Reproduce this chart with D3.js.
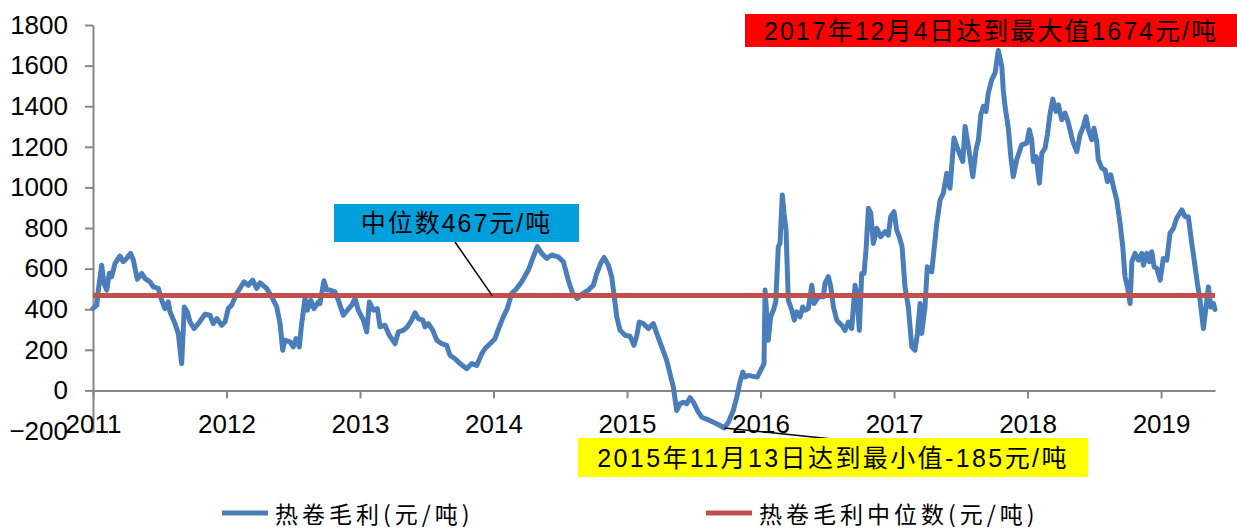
<!DOCTYPE html>
<html>
<head>
<meta charset="utf-8">
<script src="https://cdn.jsdelivr.net/npm/d3@7"></script>
<style>
  body { margin: 0; background: #fff; }
  svg { display: block; }
  .tick text { font-family: "Liberation Sans", Arial, sans-serif; font-size: 26px; fill: #000; }
  .ann { font-family: "Liberation Sans", Arial, "Noto Sans CJK SC", sans-serif; fill: #000; }
</style>
</head>
<body>
<div id="chart"></div>
<script>

// Data (decimal year, 热卷毛利 元/吨)
var years = [
  2011.000, 2011.028, 2011.040, 2011.065, 2011.082, 2011.103, 2011.122, 2011.140, 2011.165, 2011.202,
  2011.227, 2011.252, 2011.282, 2011.302, 2011.332, 2011.365, 2011.390, 2011.427, 2011.452, 2011.489,
  2011.515, 2011.539, 2011.564, 2011.577, 2011.614, 2011.639, 2011.664, 2011.684, 2011.706, 2011.727,
  2011.757, 2011.789, 2011.839, 2011.876, 2011.901, 2011.927, 2011.964, 2011.989, 2012.013, 2012.039,
  2012.076, 2012.131, 2012.163, 2012.196, 2012.226, 2012.251, 2012.301, 2012.339, 2012.376, 2012.401,
  2012.421, 2012.436, 2012.476, 2012.500, 2012.521, 2012.545, 2012.563, 2012.588, 2012.606, 2012.631,
  2012.655, 2012.688, 2012.700, 2012.730, 2012.751, 2012.775, 2012.813, 2012.838, 2012.875, 2012.905,
  2012.938, 2012.963, 2012.987, 2013.025, 2013.050, 2013.070, 2013.100, 2013.130, 2013.150, 2013.187,
  2013.219, 2013.262, 2013.287, 2013.324, 2013.354, 2013.387, 2013.412, 2013.437, 2013.470, 2013.487,
  2013.512, 2013.545, 2013.575, 2013.612, 2013.649, 2013.674, 2013.712, 2013.749, 2013.799, 2013.837,
  2013.874, 2013.912, 2013.936, 2013.974, 2014.011, 2014.043, 2014.073, 2014.103, 2014.136, 2014.174,
  2014.211, 2014.261, 2014.298, 2014.328, 2014.361, 2014.399, 2014.436, 2014.485, 2014.523, 2014.560,
  2014.593, 2014.628, 2014.668, 2014.710, 2014.748, 2014.773, 2014.803, 2014.828, 2014.860, 2014.885,
  2014.903, 2014.923, 2014.948, 2014.985, 2015.022, 2015.052, 2015.073, 2015.092, 2015.122, 2015.160,
  2015.197, 2015.223, 2015.260, 2015.297, 2015.322, 2015.347, 2015.372, 2015.397, 2015.422, 2015.447,
  2015.472, 2015.497, 2015.534, 2015.560, 2015.609, 2015.659, 2015.697, 2015.729, 2015.759, 2015.796,
  2015.822, 2015.846, 2015.867, 2015.884, 2015.909, 2015.946, 2015.976, 2016.001, 2016.026, 2016.034,
  2016.046, 2016.058, 2016.076, 2016.096, 2016.114, 2016.133, 2016.146, 2016.163, 2016.176, 2016.191,
  2016.208, 2016.234, 2016.253, 2016.271, 2016.296, 2016.316, 2016.333, 2016.358, 2016.384, 2016.401,
  2016.433, 2016.470, 2016.483, 2016.508, 2016.526, 2016.546, 2016.571, 2016.608, 2016.633, 2016.658,
  2016.683, 2016.708, 2016.721, 2016.740, 2016.758, 2016.775, 2016.790, 2016.808, 2016.826, 2016.845,
  2016.871, 2016.900, 2016.933, 2016.957, 2016.975, 2017.000, 2017.020, 2017.039, 2017.060, 2017.082,
  2017.107, 2017.133, 2017.157, 2017.175, 2017.195, 2017.207, 2017.232, 2017.249, 2017.282, 2017.307,
  2017.320, 2017.345, 2017.369, 2017.395, 2017.419, 2017.449, 2017.470, 2017.494, 2017.515, 2017.532,
  2017.557, 2017.590, 2017.614, 2017.632, 2017.650, 2017.669, 2017.689, 2017.706, 2017.732, 2017.757,
  2017.781, 2017.807, 2017.818, 2017.831, 2017.856, 2017.875, 2017.893, 2017.919, 2017.956, 2017.994,
  2018.013, 2018.031, 2018.043, 2018.064, 2018.089, 2018.107, 2018.131, 2018.148, 2018.169, 2018.189,
  2018.213, 2018.231, 2018.256, 2018.281, 2018.306, 2018.339, 2018.369, 2018.393, 2018.418, 2018.438,
  2018.456, 2018.481, 2018.498, 2018.518, 2018.530, 2018.556, 2018.581, 2018.598, 2018.623, 2018.643,
  2018.668, 2018.693, 2018.713, 2018.730, 2018.748, 2018.768, 2018.781, 2018.805, 2018.830, 2018.856,
  2018.868, 2018.893, 2018.912, 2018.930, 2018.948, 2018.968, 2018.993, 2019.017, 2019.043, 2019.067,
  2019.092, 2019.117, 2019.155, 2019.180, 2019.204, 2019.230, 2019.255, 2019.272, 2019.292, 2019.317,
  2019.337, 2019.355, 2019.372, 2019.392, 2019.404
];
var grossMargin = [
  404, 420, 494, 617, 528, 494, 577, 560, 626, 662,
  634, 650, 675, 642, 547, 576, 551, 535, 510, 502,
  444, 403, 436, 387, 329, 280, 132, 411, 387, 337,
  305, 329, 375, 370, 329, 354, 321, 337, 403, 420,
  477, 535, 518, 543, 502, 530, 502, 461, 411, 329,
  198, 247, 239, 214, 255, 214, 329, 453, 395, 444,
  403, 436, 428, 540, 494, 494, 485, 444, 370, 395,
  420, 453, 395, 346, 288, 436, 395, 403, 313, 321,
  272, 230, 288, 296, 313, 346, 382, 354, 346, 313,
  329, 296, 247, 230, 222, 173, 156, 132, 107, 132,
  123, 181, 206, 230, 255, 313, 362, 403, 477, 502,
  535, 593, 658, 708, 675, 650, 667, 658, 634, 543,
  477, 453, 477, 494, 518, 576, 626, 655, 617, 560,
  469, 362, 296, 272, 267, 222, 270, 337, 329, 305,
  329, 280, 214, 148, 82, 16, -99, -66, -58, -66,
  -36, -58, -107, -132, -145, -161, -173, -185, -157, -99,
  -33, 41, 90, 66, 74, 69, 66, 99, 132, 494,
  379, 247, 362, 395, 436, 708, 724, 963, 873, 790,
  444, 395, 346, 387, 362, 411, 395, 403, 518, 428,
  461, 461, 527, 560, 510, 411, 346, 321, 296, 337,
  305, 518, 477, 296, 576, 576, 691, 897, 873, 724,
  798, 757, 782, 765, 856, 880, 790, 757, 708, 510,
  411, 214, 198, 280, 428, 280, 411, 609, 584, 741,
  823, 938, 971, 1070, 996, 1243, 1202, 1160, 1128, 1300,
  1202, 1053, 1185, 1235, 1358, 1399, 1374, 1465, 1531, 1564,
  1674, 1597, 1481, 1400, 1292, 1150, 1053, 1136, 1210, 1218,
  1284, 1235, 1128, 1152, 1021, 1169, 1193, 1259, 1366, 1435,
  1374, 1407, 1333, 1366, 1317, 1226, 1177, 1259, 1300, 1349,
  1284, 1235, 1292, 1226, 1136, 1095, 1086, 1029, 1062, 1004,
  938, 823, 708, 560, 510, 428, 634, 675, 642, 675,
  617, 675, 634, 683, 609, 601, 543, 650, 642, 774,
  798, 848, 889, 856, 856, 724, 609, 527, 444, 305,
  411, 510, 411, 428, 399
];
var medianValue = 467;
var xTickYears = [2011, 2012, 2013, 2014, 2015, 2016, 2017, 2018, 2019];
var yTickValues = [-200, 0, 200, 400, 600, 800, 1000, 1200, 1400, 1600, 1800];
var seriesNames = ["热卷毛利(元/吨)", "热卷毛利中位数(元/吨)"];
var maxLabel = "2017年12月4日达到最大值1674元/吨";
var minLabel = "2015年11月13日达到最小值-185元/吨";
var medianLabel = "中位数467元/吨";

var width = 1237, height = 530;
var blue = "#4A7EBB", red = "#C0504D", axisGrey = "#868686";

var svg = d3.select("#chart").append("svg")
    .attr("width", width)
    .attr("height", height);

svg.append("rect").attr("width", width).attr("height", height).attr("fill", "#fff");

var x = d3.scaleLinear().domain([2011, 2019.404]).range([93, 1215]);
var y = d3.scaleLinear().domain([-200, 1800]).range([431, 25]);

var series = years.map(function(d, i) { return { t: d, v: grossMargin[i] }; });

// y axis
var yAxis = svg.append("g")
    .attr("transform", "translate(" + x(2011) + ",0)")
    .call(d3.axisLeft(y).tickValues(yTickValues).tickSize(8).tickSizeOuter(0).tickPadding(17).tickFormat(d3.format("d")));

// x axis on the zero line
var xAxis = svg.append("g")
    .attr("transform", "translate(0," + y(0) + ")")
    .call(d3.axisBottom(x).tickValues(xTickYears).tickSize(8).tickSizeOuter(0).tickPadding(16).tickFormat(d3.format("d")));

[yAxis, xAxis].forEach(function(a) {
    a.select(".domain").attr("stroke", axisGrey).attr("stroke-width", 2);
    a.selectAll(".tick line").attr("stroke", axisGrey).attr("stroke-width", 2);
});

// gross margin line
var line = d3.line()
    .x(function(d) { return x(d.t); })
    .y(function(d) { return y(d.v); });

svg.append("path")
    .datum(series)
    .attr("d", line)
    .attr("fill", "none")
    .attr("stroke", blue)
    .attr("stroke-width", 5)
    .attr("stroke-linejoin", "round")
    .attr("stroke-linecap", "round");

// median line
svg.append("line")
    .attr("x1", x(2011)).attr("x2", x(2019.404))
    .attr("y1", y(medianValue)).attr("y2", y(medianValue))
    .attr("stroke", red)
    .attr("stroke-width", 5);

// annotations
function labelBox(text, bx, by, bw, bh, fill, fontSize, spacing) {
    svg.append("rect")
        .attr("x", bx).attr("y", by)
        .attr("width", bw).attr("height", bh)
        .attr("fill", fill);
    svg.append("text")
        .attr("class", "ann")
        .attr("x", bx + bw / 2)
        .attr("y", by + bh / 2)
        .attr("text-anchor", "middle")
        .attr("dominant-baseline", "central")
        .style("font-size", fontSize + "px")
        .style("letter-spacing", spacing + "px")
        .text(text);
}

// leader lines
svg.append("line")
    .attr("x1", 455).attr("y1", 242)
    .attr("x2", x(2013.99)).attr("y2", y(medianValue))
    .attr("stroke", "#000").attr("stroke-width", 1.5);

svg.append("line")
    .attr("x1", x(2015.729)).attr("y1", y(-185))
    .attr("x2", 842).attr("y2", 440)
    .attr("stroke", "#000").attr("stroke-width", 1.5);

labelBox(maxLabel, 745, 14, 492, 33, "#FF0000", 25, 2);
labelBox(medianLabel, 334, 204, 245, 38, "#00A0DC", 25, 2);
labelBox(minLabel, 578, 438, 510, 39, "#FFFF00", 25, 2.4);

// legend
var legendX = [222, 706];
var legendColors = [blue, red];
var legend = svg.selectAll(".legend")
    .data(seriesNames)
    .enter().append("g")
    .attr("class", "legend")
    .attr("transform", function(d, i) { return "translate(" + legendX[i] + ",513)"; });

legend.append("line")
    .attr("x1", 0).attr("x2", 46)
    .attr("y1", 0).attr("y2", 0)
    .attr("stroke", function(d, i) { return legendColors[i]; })
    .attr("stroke-width", 5);

legend.append("text")
    .attr("x", 53)
    .attr("y", 0)
    .attr("dominant-baseline", "central")
    .style("font-family", "\"Noto Sans CJK SC\", sans-serif")
    .style("font-size", "23px")
    .style("letter-spacing", "4px")
    .text(function(d) { return d; });

</script>
</body>
</html>
